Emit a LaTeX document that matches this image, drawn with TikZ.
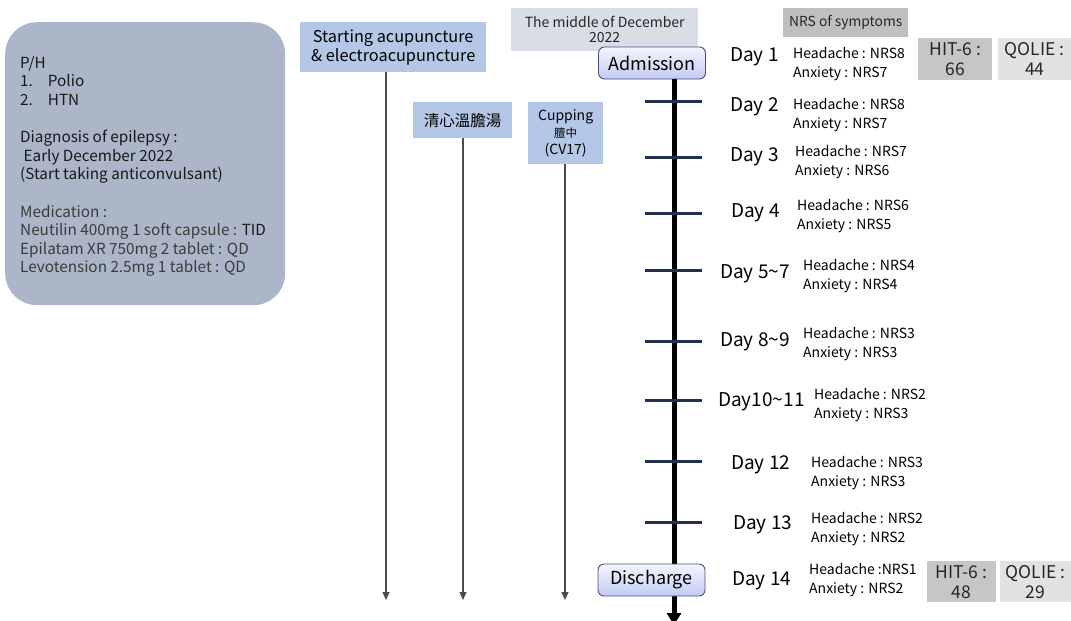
\documentclass[tikz,border=0pt]{standalone}
\usepackage{fontspec}
\setmainfont{Noto Sans CJK KR}
\usetikzlibrary{arrows.meta,shadings}
\definecolor{phfill}{HTML}{ABB6C8}
\definecolor{bluebox}{HTML}{B4C7E7}
\definecolor{midgray}{HTML}{D9DEE6}
\definecolor{nrsgray}{HTML}{BFBFBF}
\definecolor{hitgray}{HTML}{C6C6C6}
\definecolor{qolgray}{HTML}{E2E2E2}
\definecolor{tickc}{HTML}{223152}
\definecolor{medgray}{HTML}{3C3C3C}
\tikzset{
  lbl/.style={anchor=west,inner sep=0pt,font=\fontsize{14}{19}\selectfont,align=left,text=black},
  daylbl/.style={anchor=west,inner sep=0pt,font=\fontsize{19}{21}\selectfont,text=black},
  tbox/.style={fill=bluebox,inner sep=0pt,align=center,text=black},
  gbox/.style={inner sep=0pt,align=center,font=\fontsize{17.5}{20}\selectfont,text=black!85},
  evt/.style={draw=black!50!blue!40!gray,line width=0.9pt,rounded corners=6pt,top color=blue!4,bottom color=bluebox!85!blue!60!white,inner sep=0pt,minimum width=107pt,minimum height=32pt,font=\fontsize{18}{20}\selectfont},
  thin/.style={draw=black!70,line width=1.1pt,-{Triangle[length=8pt,width=7pt]}},
  tickl/.style={draw=tickc,line width=3pt},
}
\begin{document}
\begin{tikzpicture}[x=1pt,y=-1pt]
\useasboundingbox (0,0) rectangle (1071,621);
% left box
\node[fill=phfill,rounded corners=32pt,minimum width=280pt,minimum height=283pt,inner sep=0pt,anchor=north west] (ph) at (5,22) {};
\node[anchor=north west,inner sep=0pt,align=left,font=\fontsize{15.3}{18.6}\selectfont,text=black!90] (phtext) at (20,56) {%
P/H\\
1.\hspace{15pt}Polio\\
2.\hspace{15pt}HTN\\[18.6pt]
Diagnosis of epilepsy :\\
\ Early December 2022\\
(Start taking anticonvulsant)\\[18.6pt]
\textcolor{medgray}{Medication :}\\
\textcolor{medgray}{Neutilin 400mg 1 soft capsule :} TID\\
\textcolor{medgray}{Epilatam XR 750mg 2 tablet : QD}\\
\textcolor{medgray}{Levotension 2.5mg 1 tablet : QD}};
% treatment boxes
\node[tbox,minimum width=186pt,minimum height=50pt,font=\fontsize{16.3}{19}\selectfont,anchor=north west] (acu) at (300,22) {Starting acupuncture\\\& electroacupuncture};
\node[tbox,minimum width=99pt,minimum height=36pt,font=\fontsize{15.5}{18}\selectfont,anchor=north west] (herb) at (413,102) {清心溫膽湯};
\node[tbox,minimum width=75pt,minimum height=62pt,font=\fontsize{14}{17}\selectfont,anchor=north west] (cup) at (528,102) {Cupping\\{\fontsize{11.5}{14}\selectfont 膻中}\\(CV17)};
\coordinate (acuend) at (386,600);
\coordinate (herbend) at (463,600);
\coordinate (cupend) at (565,600);
\draw[thin] (acu.south -| acuend) -- (acuend);
\draw[thin] (herb.south -| herbend) -- (herbend);
\draw[thin] (cup.south -| cupend) -- (cupend);
% top labels
\node[fill=midgray,minimum width=187pt,minimum height=43pt,inner sep=0pt,anchor=north west,align=center,font=\fontsize{14}{15}\selectfont,text=black!85] (mid) at (511,8) {The middle of December\\2022};
\node[fill=nrsgray,minimum width=125pt,minimum height=29pt,inner sep=0pt,anchor=north west,font=\fontsize{13.8}{15}\selectfont,text=black!85] (nrs) at (783,8) {NRS of symptoms};
% timeline
\coordinate (tend) at (674,625);
\node[evt] (adm) at (652,63) {Admission};
\draw[line width=5pt,-{Triangle[length=12pt,width=14pt]}] (adm.south -| tend) -- (tend);
\node[evt] (dis) at (651.5,580) {Discharge};
\foreach \y in {101,157,213,270,341,400,461,522}{
  \draw[tickl] (645,\y) -- (702,\y);
}
% days
\node[daylbl] (d1) at (730,57) {Day 1};
\node[daylbl] (d2) at (730,107) {Day 2};
\node[daylbl] (d3) at (730,157) {Day 3};
\node[daylbl] (d4) at (731,213) {Day 4};
\node[daylbl] (d5) at (720,274) {Day 5\textasciitilde7};
\node[daylbl] (d8) at (720,342) {Day 8\textasciitilde9};
\node[daylbl] (d10) at (718,402) {Day10\textasciitilde11};
\node[daylbl] (d12) at (731,465) {Day 12};
\node[daylbl] (d13) at (733,525) {Day 13};
\node[daylbl] (d14) at (732,581) {Day 14};
% NRS
\node[lbl] (n1) at (793,64) {Headache : NRS8\\Anxiety : NRS7};
\node[lbl] (n2) at (793,115) {Headache : NRS8\\Anxiety : NRS7};
\node[lbl] (n3) at (795,162) {Headache : NRS7\\Anxiety : NRS6};
\node[lbl] (n4) at (797,216) {Headache : NRS6\\Anxiety : NRS5};
\node[lbl] (n5) at (803,276) {Headache : NRS4\\Anxiety : NRS4};
\node[lbl] (n8) at (803,344) {Headache : NRS3\\Anxiety : NRS3};
\node[lbl] (n10) at (814,405) {Headache : NRS2\\Anxiety : NRS3};
\node[lbl] (n12) at (811,473) {Headache : NRS3\\Anxiety : NRS3};
\node[lbl] (n13) at (811,529) {Headache : NRS2\\Anxiety : NRS2};
\node[lbl] (n14) at (809,580) {Headache :NRS1\\Anxiety : NRS2};
% scores
\node[gbox,fill=hitgray,minimum width=74pt,minimum height=42pt,anchor=north west] (hit1) at (918,38) {HIT-6 :\\66};
\node[gbox,fill=qolgray,minimum width=73pt,minimum height=42pt,anchor=north west] (qol1) at (998,38) {QOLIE :\\44};
\node[gbox,fill=hitgray,minimum width=69pt,minimum height=41pt,anchor=north west] (hit2) at (927,561) {HIT-6 :\\48};
\node[gbox,fill=qolgray,minimum width=71pt,minimum height=41pt,anchor=north west] (qol2) at (1000,561) {QOLIE :\\29};
\end{tikzpicture}
\end{document}
